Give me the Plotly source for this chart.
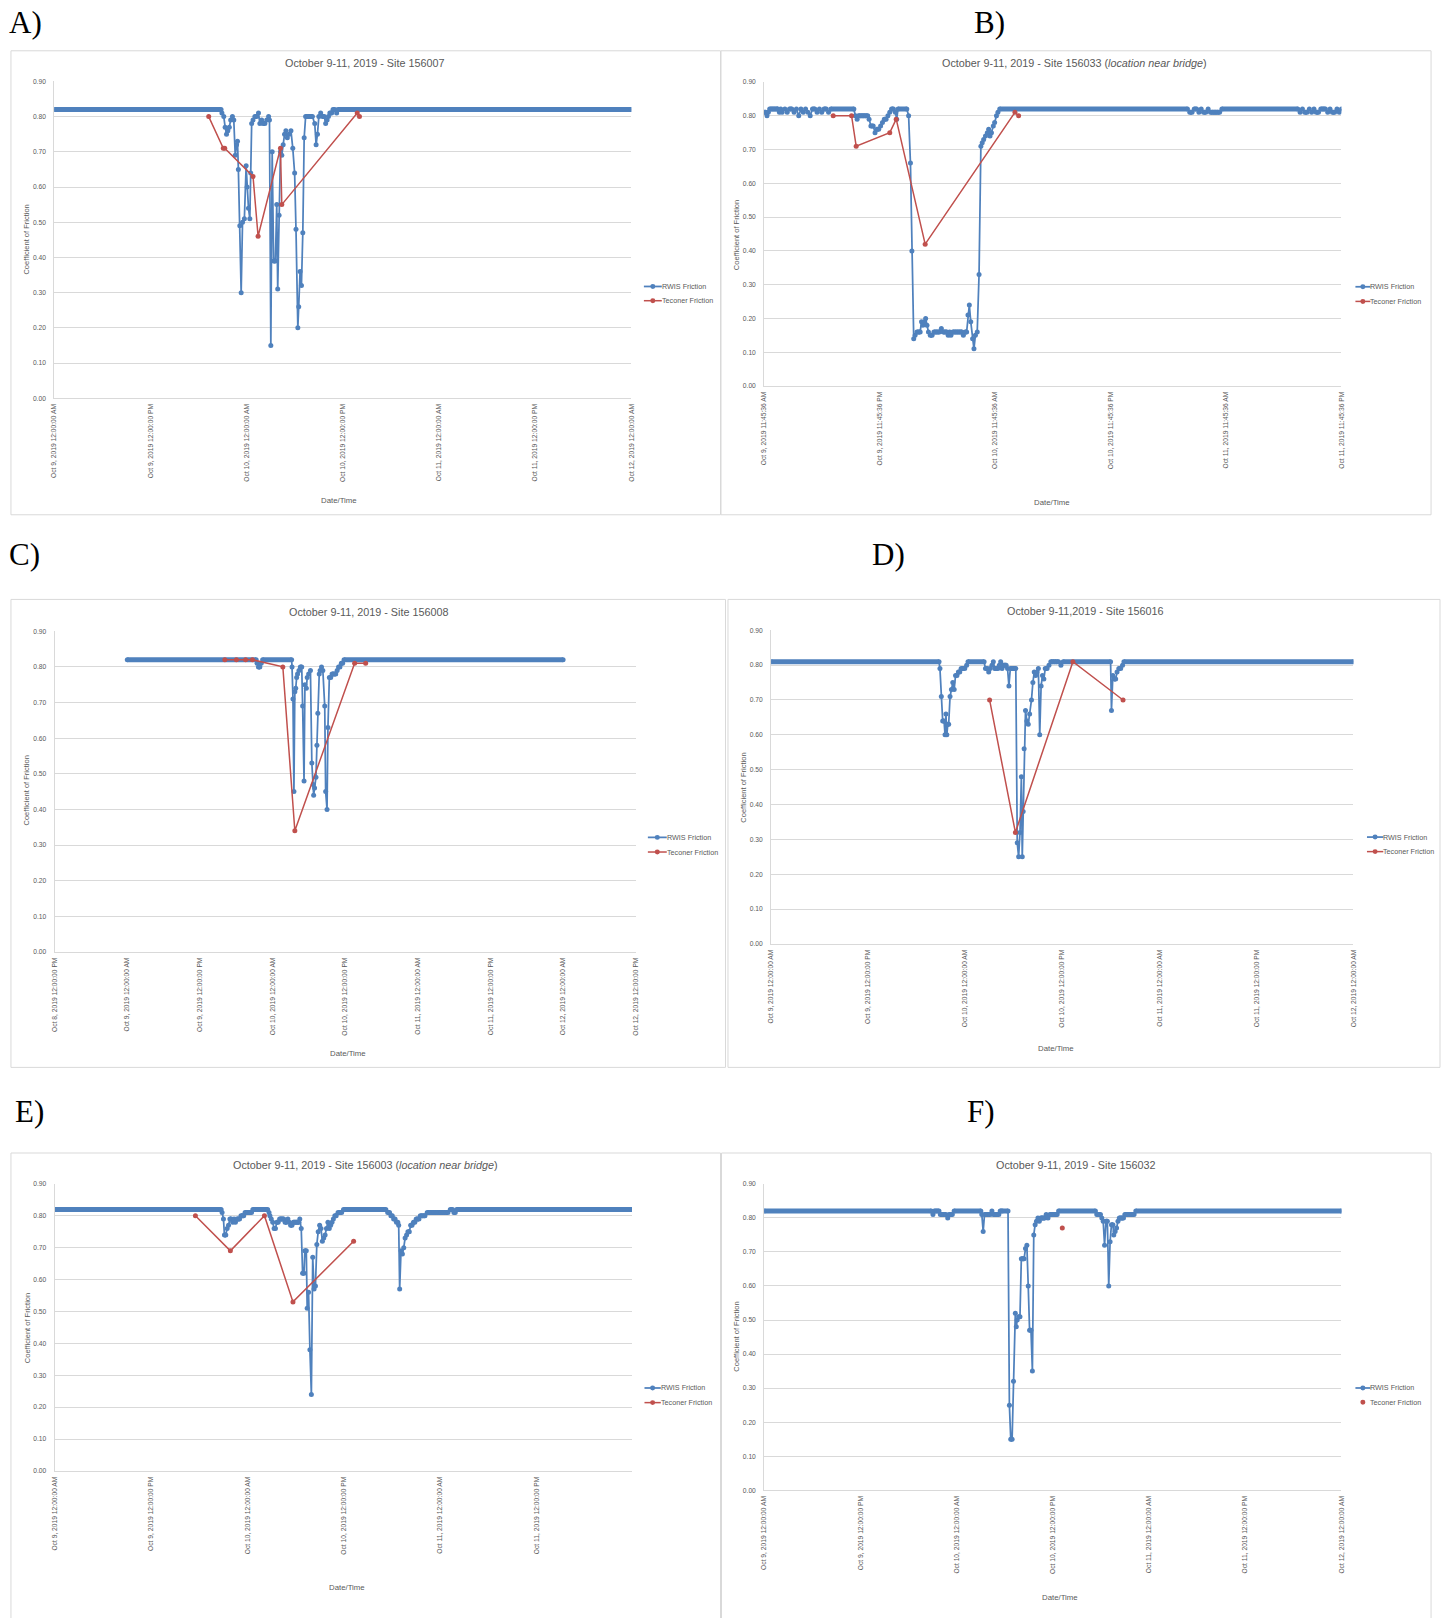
import plotly.graph_objects as go

W, H = 1445, 1618
BLUE = "#4F81BD"
RED = "#C0504D"
GRID = "#D9D9D9"
TXT = "#595959"
SANS = "Liberation Sans, Arial, sans-serif"
SERIF = "Liberation Serif, Times New Roman, serif"

# ---------------- tick labels (hours since Oct 9, 2019 00:00) ----------------
ticks_std_t = [0, 12, 24, 36, 48, 60, 72]
ticks_std_txt = ["Oct 9, 2019 12:00:00 AM", "Oct 9, 2019 12:00:00 PM", "Oct 10, 2019 12:00:00 AM",
                 "Oct 10, 2019 12:00:00 PM", "Oct 11, 2019 12:00:00 AM", "Oct 11, 2019 12:00:00 PM",
                 "Oct 12, 2019 12:00:00 AM"]
ticks_b_t = [11.76, 23.76, 35.76, 47.76, 59.76, 71.76]
ticks_b_txt = ["Oct 9, 2019 11:45:36 AM", "Oct 9, 2019 11:45:36 PM", "Oct 10, 2019 11:45:36 AM",
               "Oct 10, 2019 11:45:36 PM", "Oct 11, 2019 11:45:36 AM", "Oct 11, 2019 11:45:36 PM"]
ticks_c_t = [-12, 0, 12, 24, 36, 48, 60, 72, 84]
ticks_c_txt = ["Oct 8, 2019 12:00:00 PM", "Oct 9, 2019 12:00:00 AM", "Oct 9, 2019 12:00:00 PM",
               "Oct 10, 2019 12:00:00 AM", "Oct 10, 2019 12:00:00 PM", "Oct 11, 2019 12:00:00 AM",
               "Oct 11, 2019 12:00:00 PM", "Oct 12, 2019 12:00:00 AM", "Oct 12, 2019 12:00:00 PM"]
ticks_e_t = [0, 12, 24, 36, 48, 60]
ticks_e_txt = ticks_std_txt[:6]

# ---------------- A) Site 156007 ----------------
a_rwis_t = [0.00, 20.81, 20.92, 21.15, 21.32, 21.49, 21.66, 21.84, 22.01, 22.23, 22.40, 22.58, 22.75, 22.86,
            22.97, 23.15, 23.32, 23.49, 23.72, 23.94, 24.06, 24.23, 24.40, 24.51, 24.63, 24.80, 25.03, 25.26,
            25.48, 25.65, 25.88, 26.05, 26.28, 26.51, 26.74, 26.85, 27.02, 27.19, 27.37, 27.59, 27.76, 27.88,
            28.05, 28.22, 28.39, 28.56, 28.73, 28.90, 29.08, 29.30, 29.53, 29.76, 29.99, 30.16, 30.39, 30.50,
            30.67, 30.84, 31.01, 31.18, 31.36, 31.64, 31.93, 32.21, 32.50, 32.67, 32.84, 33.01, 33.24, 33.46,
            33.69, 33.86, 34.04, 34.21, 34.38, 34.61, 34.78, 35.00, 35.23, 35.40, 72.00]
a_rwis_v = [0.82, 0.82, 0.81, 0.80, 0.77, 0.75, 0.76, 0.77, 0.79, 0.80, 0.79, 0.69, 0.72, 0.73,
            0.65, 0.49, 0.30, 0.50, 0.51, 0.66, 0.60, 0.54, 0.51, 0.64, 0.78, 0.79, 0.80, 0.80,
            0.81, 0.78, 0.79, 0.78, 0.78, 0.79, 0.80, 0.79, 0.15, 0.70, 0.39, 0.39, 0.55, 0.31,
            0.52, 0.70, 0.69, 0.72, 0.75, 0.76, 0.74, 0.75, 0.76, 0.71, 0.64, 0.48, 0.20, 0.26,
            0.36, 0.32, 0.47, 0.74, 0.80, 0.80, 0.80, 0.80, 0.78, 0.72, 0.75, 0.80, 0.81, 0.80,
            0.80, 0.78, 0.79, 0.80, 0.81, 0.81, 0.82, 0.82, 0.81, 0.82, 0.82]
a_tec_t = [19.27, 21.09, 21.27, 24.80, 25.43, 28.22, 28.39, 37.80, 38.08]
a_tec_v = [0.80, 0.71, 0.71, 0.63, 0.46, 0.71, 0.55, 0.81, 0.80]

# ---------------- B) Site 156033 ----------------
b_rwis_t = [11.76, 11.90, 12.05, 12.19, 12.33, 12.57, 12.81, 13.05, 13.19, 13.34, 13.48, 13.62, 13.91, 14.15,
            14.39, 14.63, 14.87, 15.11, 15.35, 15.58, 15.82, 16.06, 16.30, 16.54, 16.78, 17.02, 17.26, 17.50,
            17.74, 17.98, 18.21, 18.45, 18.69, 21.08, 21.23, 21.42, 21.56, 21.80, 22.04, 22.28, 22.52, 22.66,
            22.85, 23.09, 23.28, 23.47, 23.66, 23.86, 24.05, 24.24, 24.43, 24.62, 24.81, 25.00, 25.19, 25.39,
            25.53, 25.67, 26.58, 26.77, 26.96, 27.11, 27.30, 27.44, 27.63, 27.82, 27.97, 28.11, 28.25, 28.40,
            28.54, 28.68, 28.83, 29.02, 29.21, 29.40, 29.59, 29.78, 29.98, 30.17, 30.36, 30.55, 30.74, 30.88,
            31.03, 31.17, 31.36, 31.55, 31.74, 31.94, 32.13, 32.32, 32.46, 32.65, 32.80, 32.94, 33.08, 33.23,
            33.42, 33.56, 33.71, 33.90, 34.09, 34.28, 34.42, 34.57, 34.76, 34.95, 35.09, 35.23, 35.38, 35.57,
            35.71, 35.90, 36.05, 36.24, 55.75, 55.99, 56.23, 56.46, 56.70, 56.94, 57.18, 57.42, 57.66, 57.90,
            58.14, 58.38, 58.61, 58.85, 59.09, 59.33, 67.22, 67.46, 67.70, 67.94, 68.18, 68.42, 68.66, 68.90,
            69.13, 69.37, 69.61, 69.85, 70.09, 70.33, 70.57, 70.81, 71.05, 71.29, 71.53, 71.76]
b_rwis_v = [0.81, 0.81, 0.80, 0.81, 0.82, 0.82, 0.82, 0.82, 0.82, 0.81, 0.82, 0.81, 0.82, 0.81,
            0.82, 0.82, 0.81, 0.82, 0.80, 0.82, 0.81, 0.82, 0.81, 0.80, 0.82, 0.82, 0.81, 0.82,
            0.81, 0.82, 0.82, 0.81, 0.82, 0.82, 0.80, 0.79, 0.80, 0.80, 0.80, 0.80, 0.80, 0.79,
            0.77, 0.77, 0.75, 0.76, 0.76, 0.77, 0.78, 0.79, 0.79, 0.80, 0.81, 0.82, 0.82, 0.81,
            0.79, 0.82, 0.82, 0.80, 0.66, 0.40, 0.14, 0.15, 0.16, 0.16, 0.16, 0.19, 0.18, 0.19,
            0.20, 0.18, 0.16, 0.15, 0.15, 0.16, 0.16, 0.16, 0.16, 0.17, 0.16, 0.16, 0.16, 0.15,
            0.16, 0.15, 0.16, 0.16, 0.16, 0.16, 0.16, 0.16, 0.15, 0.16, 0.16, 0.21, 0.24, 0.19,
            0.14, 0.11, 0.15, 0.16, 0.33, 0.71, 0.72, 0.73, 0.74, 0.75, 0.76, 0.74, 0.75, 0.77,
            0.78, 0.80, 0.81, 0.82, 0.82, 0.81, 0.81, 0.82, 0.82, 0.81, 0.82, 0.81, 0.81, 0.82,
            0.81, 0.81, 0.81, 0.81, 0.81, 0.82, 0.82, 0.81, 0.82, 0.81, 0.81, 0.82, 0.81, 0.82,
            0.81, 0.81, 0.82, 0.82, 0.82, 0.81, 0.82, 0.81, 0.81, 0.82, 0.81, 0.82]
b_tec_t = [18.93, 20.84, 21.32, 24.81, 25.48, 28.49, 37.82, 38.20]
b_tec_v = [0.80, 0.80, 0.71, 0.75, 0.79, 0.42, 0.81, 0.80]

# ---------------- C) Site 156008 ----------------
c_rwis_t = [0.00, 21.29, 21.44, 21.67, 21.90, 22.13, 22.36, 27.15, 27.22, 27.37, 27.53, 27.68, 27.83, 27.98,
            28.13, 28.36, 28.59, 28.82, 28.97, 29.20, 29.35, 29.58, 29.73, 29.96, 30.26, 30.49, 30.72, 30.79,
            30.94, 31.17, 31.33, 31.48, 31.71, 31.86, 32.09, 32.31, 32.62, 32.77, 33.00, 33.15, 33.38, 33.61,
            33.83, 34.14, 34.44, 34.67, 34.90, 35.13, 35.36, 35.58, 35.81, 72.00]
c_rwis_v = [0.82, 0.82, 0.81, 0.80, 0.80, 0.81, 0.82, 0.82, 0.80, 0.71, 0.45, 0.73, 0.74, 0.77,
            0.78, 0.79, 0.80, 0.80, 0.69, 0.48, 0.75, 0.74, 0.77, 0.78, 0.79, 0.53, 0.47, 0.44,
            0.46, 0.49, 0.58, 0.67, 0.78, 0.79, 0.80, 0.79, 0.69, 0.45, 0.40, 0.63, 0.77, 0.77,
            0.78, 0.78, 0.78, 0.79, 0.80, 0.80, 0.81, 0.81, 0.82, 0.82]
c_tec_t = [16.12, 18.02, 19.54, 20.68, 25.70, 27.68, 37.56, 39.38]
c_tec_v = [0.82, 0.82, 0.82, 0.82, 0.80, 0.34, 0.81, 0.81]

# ---------------- D) Site 156016 ----------------
d_rwis_t = [0.00, 20.76, 20.87, 21.04, 21.21, 21.38, 21.50, 21.61, 21.72, 21.84, 21.95, 22.12, 22.29, 22.46,
            22.63, 22.80, 22.97, 23.15, 23.32, 23.49, 23.71, 23.94, 24.17, 24.34, 26.33, 26.50, 26.73, 26.90,
            27.07, 27.30, 27.47, 27.64, 27.87, 28.04, 28.21, 28.38, 28.55, 28.72, 28.89, 29.06, 29.23, 29.40,
            29.57, 29.80, 30.03, 30.25, 30.43, 30.60, 30.77, 30.94, 31.05, 31.16, 31.28, 31.45, 31.62, 31.79,
            31.96, 32.19, 32.36, 32.53, 32.70, 32.87, 33.04, 33.21, 33.38, 33.55, 33.72, 33.89, 34.12, 34.35,
            34.58, 34.80, 35.03, 35.26, 35.54, 35.83, 36.11, 41.97, 42.08, 42.25, 42.42, 42.60, 42.77, 42.99,
            43.22, 43.45, 43.62, 72.00]
d_rwis_v = [0.81, 0.81, 0.79, 0.71, 0.64, 0.64, 0.60, 0.66, 0.60, 0.63, 0.63, 0.71, 0.73, 0.75,
            0.73, 0.77, 0.77, 0.78, 0.78, 0.79, 0.79, 0.79, 0.80, 0.81, 0.81, 0.79, 0.79, 0.78,
            0.79, 0.80, 0.81, 0.79, 0.79, 0.79, 0.80, 0.81, 0.79, 0.80, 0.80, 0.80, 0.79, 0.74,
            0.79, 0.79, 0.79, 0.79, 0.29, 0.25, 0.32, 0.48, 0.25, 0.38, 0.56, 0.67, 0.64, 0.63,
            0.66, 0.70, 0.75, 0.78, 0.77, 0.78, 0.79, 0.60, 0.74, 0.77, 0.76, 0.79, 0.79, 0.80,
            0.81, 0.81, 0.81, 0.81, 0.81, 0.80, 0.81, 0.81, 0.67, 0.77, 0.76, 0.76, 0.78, 0.79,
            0.79, 0.80, 0.81, 0.81]
d_tec_t = [27.01, 30.20, 37.31, 43.51]
d_tec_v = [0.70, 0.32, 0.81, 0.70]

# ---------------- E) Site 156003 ----------------
e_rwis_t = [0.00, 20.72, 20.84, 21.01, 21.13, 21.30, 21.47, 21.64, 21.81, 21.98, 22.16, 22.33, 22.50, 22.67,
            22.84, 23.01, 23.19, 23.36, 23.53, 23.70, 23.87, 24.05, 24.27, 24.50, 24.67, 26.51, 26.68, 26.79,
            26.96, 27.14, 27.31, 27.48, 27.65, 27.82, 28.00, 28.17, 28.34, 28.51, 28.68, 28.85, 29.03, 29.20,
            29.37, 29.54, 29.71, 29.88, 30.06, 30.23, 30.40, 30.51, 30.69, 30.86, 31.03, 31.14, 31.32, 31.43,
            31.60, 31.77, 31.95, 32.12, 32.29, 32.46, 32.63, 32.80, 32.98, 33.15, 33.32, 33.49, 33.66, 33.83,
            34.01, 34.18, 34.35, 34.52, 34.69, 34.87, 35.04, 35.27, 35.50, 35.72, 35.95, 41.22, 41.45, 41.68,
            41.85, 42.02, 42.19, 42.37, 42.54, 42.71, 42.82, 42.94, 43.11, 43.28, 43.45, 43.62, 43.80, 43.97,
            44.14, 44.31, 44.48, 44.66, 44.83, 45.00, 45.17, 45.34, 45.51, 45.80, 46.09, 46.37, 46.66, 46.95,
            47.23, 47.52, 47.80, 48.09, 48.38, 48.66, 48.95, 49.24, 49.52, 49.69, 49.86, 50.04, 71.85]
e_rwis_v = [0.82, 0.82, 0.81, 0.79, 0.74, 0.74, 0.76, 0.77, 0.79, 0.79, 0.78, 0.79, 0.78, 0.79,
            0.79, 0.79, 0.80, 0.80, 0.80, 0.81, 0.81, 0.81, 0.81, 0.81, 0.82, 0.82, 0.81, 0.80,
            0.79, 0.78, 0.76, 0.76, 0.78, 0.78, 0.79, 0.79, 0.79, 0.79, 0.78, 0.78, 0.79, 0.78,
            0.77, 0.77, 0.78, 0.78, 0.78, 0.78, 0.78, 0.79, 0.76, 0.62, 0.62, 0.69, 0.69, 0.51,
            0.56, 0.38, 0.24, 0.67, 0.57, 0.58, 0.71, 0.75, 0.77, 0.76, 0.72, 0.73, 0.74, 0.76,
            0.78, 0.76, 0.77, 0.78, 0.79, 0.80, 0.80, 0.81, 0.81, 0.81, 0.82, 0.82, 0.81, 0.81,
            0.80, 0.80, 0.79, 0.79, 0.78, 0.78, 0.77, 0.57, 0.69, 0.68, 0.70, 0.73, 0.74, 0.75,
            0.75, 0.77, 0.77, 0.78, 0.78, 0.79, 0.79, 0.79, 0.80, 0.80, 0.80, 0.81, 0.81, 0.81,
            0.81, 0.81, 0.81, 0.81, 0.81, 0.81, 0.81, 0.82, 0.82, 0.81, 0.81, 0.82, 0.82]
e_tec_t = [17.52, 21.87, 26.11, 29.66, 37.21]
e_tec_v = [0.80, 0.69, 0.80, 0.53, 0.72]

# ---------------- F) Site 156032 ----------------
f_rwis_t = [0.00, 20.83, 21.05, 21.23, 21.51, 21.80, 21.97, 22.20, 22.43, 22.66, 22.89, 23.06, 23.23, 23.46,
            23.69, 27.02, 27.14, 27.31, 27.48, 27.71, 27.94, 28.17, 28.40, 28.57, 28.80, 29.03, 29.26, 29.43,
            29.66, 30.41, 30.58, 30.75, 30.92, 31.09, 31.32, 31.44, 31.55, 31.73, 31.90, 32.07, 32.24, 32.41,
            32.59, 32.76, 32.93, 33.10, 33.27, 33.45, 33.62, 33.79, 33.96, 34.14, 34.31, 34.48, 34.65, 34.82,
            35.00, 35.17, 35.40, 35.63, 35.86, 36.09, 36.32, 36.54, 36.72, 41.31, 41.48, 41.71, 41.94, 42.11,
            42.28, 42.45, 42.63, 42.80, 42.97, 43.14, 43.31, 43.49, 43.60, 43.77, 43.95, 44.12, 44.29, 44.46,
            44.63, 44.81, 44.98, 45.21, 45.44, 45.67, 45.90, 46.13, 46.35, 72.00]
f_rwis_v = [0.82, 0.82, 0.81, 0.82, 0.82, 0.82, 0.81, 0.81, 0.81, 0.81, 0.80, 0.81, 0.81, 0.81,
            0.82, 0.82, 0.81, 0.76, 0.81, 0.81, 0.81, 0.81, 0.82, 0.81, 0.81, 0.81, 0.81, 0.82,
            0.82, 0.82, 0.25, 0.15, 0.15, 0.32, 0.52, 0.48, 0.50, 0.51, 0.51, 0.68, 0.68, 0.68,
            0.71, 0.72, 0.60, 0.47, 0.47, 0.35, 0.75, 0.78, 0.79, 0.80, 0.79, 0.80, 0.80, 0.80,
            0.80, 0.81, 0.80, 0.81, 0.81, 0.81, 0.81, 0.81, 0.82, 0.82, 0.81, 0.81, 0.81, 0.80,
            0.79, 0.72, 0.79, 0.79, 0.60, 0.73, 0.78, 0.78, 0.75, 0.76, 0.77, 0.79, 0.80, 0.80,
            0.80, 0.80, 0.81, 0.81, 0.81, 0.81, 0.81, 0.81, 0.82, 0.82]
f_tec_t = [37.18]
f_tec_v = [0.77]


def fx(px):
    return px / W


def fy(py):
    return 1 - py / H


# layout geometry of each panel (pixel positions; styling only)
panels = [
    dict(letter="A)", lpos=(3, 19), box=(7, 47, 720, 513), plot=(50.5, 77.7, 630.4, 396),
         title="October 9-11, 2019 - Site 156007", tpos=(362.7, 59), dpos=(336.5, 499), ypos=(23, 236.7),
         leg=(643, 661, 283.7, 298), xr=[0, 72], tv=ticks_std_t, tt=ticks_std_txt,
         rt=a_rwis_t, rv=a_rwis_v, tt_=a_tec_t, tv_=a_tec_v, tec_line=True),
    dict(letter="B)", lpos=(973, 19), box=(720.5, 47, 1434, 513), plot=(763.9, 78.3, 1344, 383.7),
         title="October 9-11, 2019 - Site 156033 (<i>location near bridge</i>)", tpos=(1076, 59.7),
         dpos=(1053, 501), ypos=(736, 231.7),
         leg=(1358, 1373, 284, 298.7), xr=[11.76, 71.76], tv=ticks_b_t, tt=ticks_b_txt,
         rt=b_rwis_t, rv=b_rwis_v, tt_=b_tec_t, tv_=b_tec_v, tec_line=True),
    dict(letter="C)", lpos=(3, 553), box=(7, 598, 725, 1068), plot=(50.9, 630, 634.8, 952),
         title="October 9-11, 2019 - Site 156008", tpos=(366, 610.7), dpos=(345.8, 1054), ypos=(23, 790),
         leg=(647, 666, 837, 851.7), xr=[-12, 84], tv=ticks_c_t, tt=ticks_c_txt,
         rt=c_rwis_t, rv=c_rwis_v, tt_=c_tec_t, tv_=c_tec_v, tec_line=True),
    dict(letter="D)", lpos=(870, 553), box=(727.5, 598, 1443, 1068), plot=(770.9, 629, 1356, 944),
         title="October 9-11,2019 - Site 156016", tpos=(1086.6, 610), dpos=(1057.5, 1049), ypos=(743, 786.7),
         leg=(1369.6, 1386, 836.7, 851.3), xr=[0, 72], tv=ticks_std_t, tt=ticks_std_txt,
         rt=d_rwis_t, rv=d_rwis_v, tt_=d_tec_t, tv_=d_tec_v, tec_line=True),
    dict(letter="E)", lpos=(9, 1112), box=(7, 1154, 720, 1625), plot=(50.9, 1185, 631, 1473.3),
         title="October 9-11, 2019 - Site 156003 (<i>location near bridge</i>)", tpos=(363, 1166.3),
         dpos=(345, 1590.3), ypos=(23, 1330),
         leg=(643.6, 660, 1390, 1404.7), xr=[0, 71.85], tv=ticks_e_t, tt=ticks_e_txt,
         rt=e_rwis_t, rv=e_rwis_v, tt_=e_tec_t, tv_=e_tec_v, tec_line=True),
    dict(letter="F)", lpos=(966, 1112), box=(721, 1154, 1434, 1625), plot=(763.9, 1185, 1344, 1492.7),
         title="October 9-11, 2019 - Site 156032", tpos=(1077, 1166.3), dpos=(1061, 1600), ypos=(736, 1338),
         leg=(1358, 1373, 1390, 1404.3), xr=[0, 72], tv=ticks_std_t, tt=ticks_std_txt,
         rt=f_rwis_t, rv=f_rwis_v, tt_=f_tec_t, tv_=f_tec_v, tec_line=False),
]

fig = go.Figure()
annotations = []
shapes = []
layout_axes = {}

for i, p in enumerate(panels, start=1):
    assert len(p["rt"]) == len(p["rv"]), p["letter"]
    assert len(p["tt_"]) == len(p["tv_"]), p["letter"]
    xs = "" if i == 1 else str(i)
    xref, yref = "x" + xs, "y" + xs

    # thick band where consecutive readings are identical (dense overlapping markers)
    bx, by = [], []
    for k in range(len(p["rt"]) - 1):
        if p["rv"][k] == p["rv"][k + 1]:
            bx += [p["rt"][k], p["rt"][k + 1], None]
            by += [p["rv"][k], p["rv"][k + 1], None]
    fig.add_trace(go.Scatter(x=bx, y=by, mode="lines", line=dict(color=BLUE, width=5),
                             xaxis=xref, yaxis=yref, showlegend=False, hoverinfo="skip"))
    fig.add_trace(go.Scatter(x=p["rt"], y=p["rv"], mode="lines+markers", name="RWIS Friction",
                             line=dict(color=BLUE, width=1.75),
                             marker=dict(color=BLUE, size=5, line=dict(width=0)),
                             xaxis=xref, yaxis=yref, showlegend=False))
    fig.add_trace(go.Scatter(x=p["tt_"], y=p["tv_"], mode="lines+markers" if p["tec_line"] else "markers",
                             name="Teconer Friction",
                             line=dict(color=RED, width=1.5),
                             marker=dict(color=RED, size=5, line=dict(width=0)),
                             xaxis=xref, yaxis=yref, showlegend=False))

    x0, y0, x1, y1 = p["plot"]
    layout_axes["xaxis" + xs] = dict(
        domain=[fx(x0), fx(x1)], range=p["xr"], anchor=yref, tickvals=p["tv"], ticktext=p["tt"],
        tickangle=-90, tickfont=dict(size=6.7, color=TXT, family=SANS), showgrid=False, zeroline=False,
        showline=True, linecolor=GRID, linewidth=1, ticks="", ticklabelstandoff=2, fixedrange=True)
    layout_axes["yaxis" + xs] = dict(
        domain=[fy(y1), fy(y0)], range=[0, 0.9], anchor=xref, tick0=0, dtick=0.1, tickformat=".2f",
        tickfont=dict(size=6.7, color=TXT, family=SANS), showgrid=True, gridcolor=GRID, gridwidth=1,
        zeroline=False, showline=True, linecolor=GRID, linewidth=1, ticks="", ticklabelstandoff=6,
        fixedrange=True)

    # panel frame
    bx0, by0, bx1, by1 = p["box"]
    shapes.append(dict(type="rect", xref="paper", yref="paper", x0=fx(bx0), x1=fx(bx1),
                       y0=fy(by1), y1=fy(by0), line=dict(color=GRID, width=1), layer="below"))

    # panel letter
    annotations.append(dict(text=p["letter"], x=fx(p["lpos"][0]), y=fy(p["lpos"][1]), xref="paper",
                            yref="paper", xanchor="left", yanchor="middle", showarrow=False,
                            font=dict(family=SERIF, size=31, color="#000000")))
    # chart title
    annotations.append(dict(text=p["title"], x=fx(p["tpos"][0]), y=fy(p["tpos"][1]), xref="paper",
                            yref="paper", xanchor="center", yanchor="middle", showarrow=False,
                            font=dict(family=SANS, size=10.8, color=TXT)))
    # axis titles
    annotations.append(dict(text="Date/Time", x=fx(p["dpos"][0]), y=fy(p["dpos"][1]), xref="paper",
                            yref="paper", xanchor="center", yanchor="middle", showarrow=False,
                            font=dict(family=SANS, size=7.8, color=TXT)))
    annotations.append(dict(text="Coefficient of Friction", x=fx(p["ypos"][0]), y=fy(p["ypos"][1]),
                            xref="paper", yref="paper", xanchor="center", yanchor="middle",
                            showarrow=False, textangle=-90,
                            font=dict(family=SANS, size=7.5, color=TXT)))

    # legend (drawn manually to match the Excel layout)
    lx0, lx1, ly1, ly2 = p["leg"]
    cx = (lx0 + lx1) / 2
    r = 2.5
    shapes.append(dict(type="line", xref="paper", yref="paper", x0=fx(lx0), x1=fx(lx1), y0=fy(ly1),
                       y1=fy(ly1), line=dict(color=BLUE, width=1.75)))
    shapes.append(dict(type="circle", xref="paper", yref="paper", x0=fx(cx - r), x1=fx(cx + r),
                       y0=fy(ly1 + r), y1=fy(ly1 - r), fillcolor=BLUE, line=dict(width=0)))
    if p["tec_line"]:
        shapes.append(dict(type="line", xref="paper", yref="paper", x0=fx(lx0), x1=fx(lx1), y0=fy(ly2),
                           y1=fy(ly2), line=dict(color=RED, width=1.5)))
    shapes.append(dict(type="circle", xref="paper", yref="paper", x0=fx(cx - r), x1=fx(cx + r),
                       y0=fy(ly2 + r), y1=fy(ly2 - r), fillcolor=RED, line=dict(width=0)))
    for txt, ly in (("RWIS Friction", ly1), ("Teconer Friction", ly2)):
        annotations.append(dict(text=txt, x=fx(lx1 - 2), y=fy(ly), xref="paper", yref="paper",
                                xanchor="left", yanchor="middle", showarrow=False,
                                font=dict(family=SANS, size=7.2, color=TXT)))

fig.update_layout(
    width=W, height=H, margin=dict(l=0, r=0, t=0, b=0),
    paper_bgcolor="white", plot_bgcolor="white",
    showlegend=False, annotations=annotations, shapes=shapes, **layout_axes)

fig.write_html("out.html", config={"displayModeBar": False},
               post_script="document.body.style.margin='0';")
